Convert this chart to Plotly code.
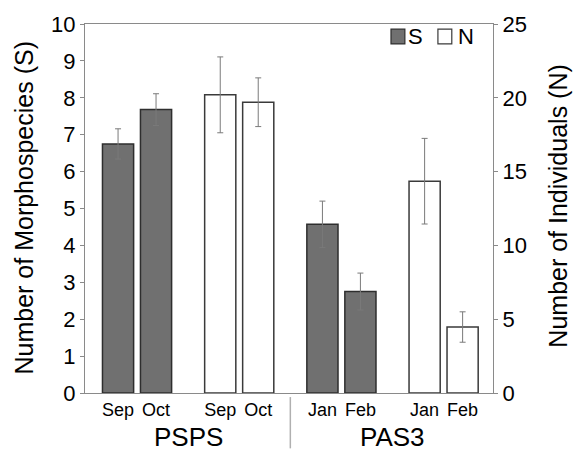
import plotly.graph_objects as go

# ---- data ----
sites = ["PSPS", "PAS3"]
months = {"PSPS": ["Sep", "Oct"], "PAS3": ["Jan", "Feb"]}
S_mean = [6.75, 7.68, 4.57, 2.75]      # PSPS Sep, PSPS Oct, PAS3 Jan, PAS3 Feb
S_err = [0.41, 0.43, 0.63, 0.50]
N_mean = [20.2, 19.7, 14.35, 4.47]
N_err = [2.57, 1.65, 2.9, 1.03]

# ---- layout of bar positions (groups: S-PSPS, N-PSPS, S-PAS3, N-PAS3) ----
GSTEP = 2.69
def pos(group, i):
    return group * GSTEP + i

s_x, n_x, tickvals, ticktext = [], [], [], []
for si, site in enumerate(sites):
    for i, m in enumerate(months[site]):
        s_x.append(pos(2 * si, i))
        n_x.append(pos(2 * si + 1, i))
for si, site in enumerate(sites):
    for g in (2 * si, 2 * si + 1):
        for i, m in enumerate(months[site]):
            tickvals.append(pos(g, i))
            ticktext.append(m)

FONT = "Liberation Sans, Arial, sans-serif"
BW = 0.82

fig = go.Figure()
fig.add_trace(go.Bar(
    x=s_x, y=S_mean, width=BW, name="S", yaxis="y",
    marker=dict(color="#707070", line=dict(color="#2e2e2e", width=1.5)),
    error_y=dict(type="data", array=S_err, color="#7a7a7a", thickness=1, width=3),
))
fig.add_trace(go.Bar(
    x=n_x, y=N_mean, width=BW, name="N", yaxis="y2",
    marker=dict(color="white", line=dict(color="#3a3a3a", width=1.5)),
    error_y=dict(type="data", array=N_err, color="#7a7a7a", thickness=1, width=3),
))

# group labels
for si, site in enumerate(sites):
    c = (pos(2 * si, 0) + pos(2 * si + 1, 1)) / 2
    fig.add_annotation(x=c, xref="x", y=0, yref="paper", yshift=-44,
                       xanchor="center", yanchor="middle",
                       text=site, showarrow=False,
                       font=dict(family=FONT, size=26, color="black"))
# separator
sep = (pos(1, 1) + pos(2, 0)) / 2
fig.add_shape(type="line", xref="x", yref="paper", x0=sep, x1=sep,
              y0=-0.011, y1=-0.15, line=dict(color="#b0b0b0", width=1.5))

# legend (drawn)
for x0, x1, fc, lc in [(0.750, 0.784, "#707070", "#2e2e2e"), (0.865, 0.899, "white", "#3a3a3a")]:
    fig.add_shape(type="rect", xref="paper", yref="paper", x0=x0, x1=x1,
                  y0=0.946, y1=0.986, fillcolor=fc, line=dict(color=lc, width=1.2))
for tx, t in [(0.811, "S"), (0.935, "N")]:
    fig.add_annotation(x=tx, y=0.966, xref="paper", yref="paper", text=t,
                       xanchor="center", yanchor="middle",
                       showarrow=False, font=dict(family=FONT, size=22, color="black"))

# axis titles
fig.add_annotation(x=0, xref="paper", y=0.5, yref="paper", xshift=-62,
                   xanchor="center", yanchor="middle",
                   text="Number of Morphospecies (S)", textangle=-90, showarrow=False,
                   font=dict(family=FONT, size=25, color="black"))
fig.add_annotation(x=1, xref="paper", y=0.505, yref="paper", xshift=65,
                   xanchor="center", yanchor="middle",
                   text="Number of Individuals (N)", textangle=-90, showarrow=False,
                   font=dict(family=FONT, size=25, color="black"))

axcol = "#8a8a8a"
fig.update_layout(
    width=577, height=455,
    margin=dict(l=85, r=84, t=24, b=62),
    paper_bgcolor="white", plot_bgcolor="white",
    showlegend=False, barmode="overlay",
    font=dict(family=FONT, color="black"),
    xaxis=dict(range=[-0.87, 9.87], tickvals=tickvals, ticktext=ticktext,
               ticks="", showgrid=False, zeroline=False,
               showline=True, linecolor=axcol, linewidth=1.2, mirror=True,
               tickfont=dict(family=FONT, size=18, color="black")),
    yaxis=dict(range=[0, 10], dtick=1, showgrid=False, zeroline=False,
               showline=True, linecolor=axcol, linewidth=1.2,
               ticks="outside", ticklen=4, tickcolor=axcol,
               tickfont=dict(family=FONT, size=22, color="black")),
    yaxis2=dict(range=[0, 25], dtick=5, overlaying="y", side="right",
                showgrid=False, zeroline=False,
                showline=True, linecolor=axcol, linewidth=1.2,
                ticks="outside", ticklen=4, tickcolor=axcol,
                tickfont=dict(family=FONT, size=22, color="black")),
)

fig.write_html("out.html")
